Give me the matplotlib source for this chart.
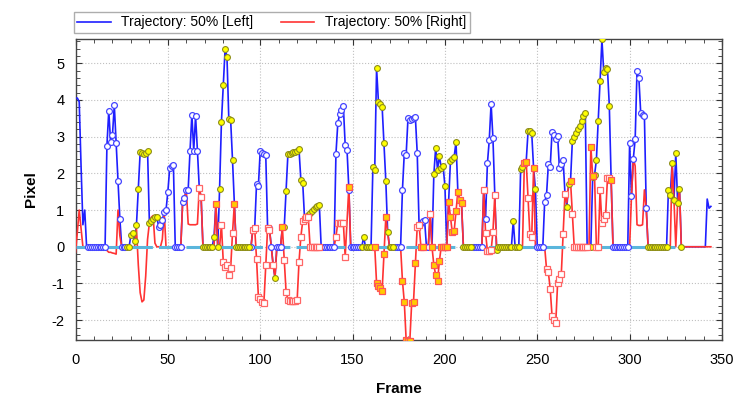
import numpy as np
import matplotlib
matplotlib.use('Agg')
import matplotlib.pyplot as plt
from matplotlib.ticker import MultipleLocator
from matplotlib.lines import Line2D

plt.rcParams['font.family'] = ['Liberation Sans', 'DejaVu Sans']
plt.rcParams['axes.unicode_minus'] = False

# --- data: one value per frame, frames 0..344 ---
LEFT_VALUES = [
    4.05, 4.05, 3.95, 2.2, 0.6, 1.0, 0, 0, 0, 0,
    0, 0, 0, 0, 0, 0, 0, 2.75, 3.7, 2.86,
    3.05, 3.85, 2.84, 1.8, 0.77, 0, 0, 0, 0, 0,
    0.32, 0.38, 0.15, 0.6, 1.57, 2.57, 2.55, 2.52, 2.55, 2.62,
    0.65, 0.7, 0.75, 0.8, 0.82, 0.55, 0.6, 0.72, 0.95, 1.0,
    1.5, 2.15, 2.2, 2.22, 0, 0, 0, 0, 1.23, 1.32,
    1.55, 1.56, 2.62, 3.6, 2.62, 3.56, 2.62, 1.6, 1.35, 0,
    0, 0, 0, 0, 0, 0.27, 1.17, 0, 1.58, 3.4,
    4.4, 5.4, 5.18, 3.47, 3.44, 2.36, 1.16, 0, 0, 0,
    0, 0, 0, 0, 0, 0, 0.47, 0.5, 1.7, 1.65,
    2.62, 2.56, 2.52, 2.5, 0.5, 0.5, 0, -0.5, -0.84, 0,
    0, 0, 0.53, 0.53, 1.52, 2.53, 2.53, 2.55, 2.57, 2.58,
    2.6, 2.65, 1.82, 1.75, 0.77, 0.82, 0.87, 0.92, 0.97, 1.02,
    1.07, 1.11, 1.15, 0, 0, 0, 0, 0, 0, 0,
    0, 2.53, 3.36, 3.62, 3.73, 3.84, 2.77, 2.64, 1.56, 0,
    0, 0, 0, 0, 0, 0, 0.27, 0, 0, 0,
    0, 2.18, 2.1, 4.86, 3.95, 3.9, 3.82, 2.82, 1.79, 0.41,
    0, 0, 0, 0, 0, 0, 0, 1.55, 2.55, 2.5,
    3.5, 3.45, 3.47, 3.5, 3.53, 2.56, 0.6, 0.64, 0.7, 0.72,
    0, 0, 0.88, 0, 1.97, 2.7, 2.1, 2.48, 2.15, 2.2,
    1.66, 0, 1.23, 2.34, 2.4, 2.45, 2.86, 1.5, 1.27, 1.18,
    0, 0, 0, 0, 0, 0, 0, 0, 0, 0,
    0, 1.56, 0.77, 2.27, 2.9, 3.9, 2.95, 1.41, -0.1, 0,
    0, 0, 0, 0, 0, 0, 0, 0.7, 0, 0,
    0, 2.12, 2.18, 2.29, 2.32, 3.14, 3.16, 3.09, 2.15, 1.57,
    0, 0, 0, 0, 1.23, 1.4, 2.25, 2.18, 3.13, 3.05,
    2.93, 3.02, 2.14, 2.25, 2.36, 1.45, 1.09, 1.7, 1.79, 2.89,
    3.0, 3.1, 3.2, 3.3, 3.43, 3.55, 3.65, 0, 0, 0,
    1.9, 1.95, 2.36, 3.43, 4.52, 5.65, 4.75, 4.88, 4.85, 3.84,
    1.82, 0, 0, 0, 0, 0, 0, 0, 0, 0,
    2.84, 1.38, 2.4, 2.93, 4.8, 4.6, 3.65, 3.6, 3.57, 1.06,
    0, 0, 0, 0, 0, 0, 0, 0, 0, 0,
    0, 1.55, 1.41, 2.27, 1.27, 2.55, 1.2, 1.58, 0, 0,
    0, 0, 0, 0, 0, 0, 0, 0, 0, 0,
    0, 0, 1.3, 1.05, 1.1,
]

RIGHT_VALUES = [
    -0.15, 0.4, 1.0, 0.5, 0, 0, 0, 0, 0, 0,
    0, 0, 0, 0, 0, 0, 0, -0.1, -0.15, -0.15,
    -0.17, -0.18, -0.2, 1.0, 0.3, 0, 0, 0, 0, 0,
    0, 0, 0, 0.5, -0.5, -1.25, -1.5, -1.45, -0.8, 0.2,
    0.65, 0.8, 0.85, 0.1, 0, 0, 0, 0.2, 0.95, 0,
    -0.05, 0, 0, 0, 0, 0, 0, 0, 1.23, 1.32,
    1.55, 0.62, 0.6, 0.6, 0.6, 0.6, 0.62, 1.6, 1.35, 0,
    0, 0, 0, 0, 0, 0, 1.17, 0, 0, 0.6,
    -0.42, -0.55, -0.5, -0.77, -0.58, 0.38, 1.16, 0, 0, 0,
    0, 0, 0, 0, 0, 0, 0.47, 0.5, -0.32, -1.36,
    -1.43, -1.5, -1.52, -0.5, 0.5, 0.47, 0, -0.5, -0.84, 0,
    0, 0, 0.53, -0.36, -1.23, -1.45, -1.47, -1.47, -1.47, -1.47,
    -1.45, -0.41, 0.27, 0.7, 0.77, 0.8, 0.82, 0, 0, 0,
    0, 0, 0, 0, 0, 0, 0, 0, 0, 0,
    0, 0.27, 0.66, 0.66, 0.66, 0.66, -0.27, 0.66, 1.64, 0,
    0, 0, 0, 0, 0, 0, 0, 0, 0, 0,
    0, 0, 0, -1.0, -1.06, -1.12, -1.2, -0.2, 0.8, 0.41,
    0, 0, 0, 0, 0, 0, 0, -0.93, -1.5, -2.53,
    -2.56, -2.56, -1.53, -1.5, -0.45, 0.55, 0.6, 0, 0, 0,
    0, 0, 0.88, 0, -0.5, -0.77, -0.94, -0.39, 0, 0,
    0, 0, 1.23, 0.82, 0.39, 0.43, 0.97, 1.5, 1.27, 1.18,
    0, 0, 0, 0, 0, 0, 0, 0, 0, 0,
    0, 1.56, 0.38, -0.11, -0.11, -0.1, 0.41, 1.41, -0.1, 0,
    0, 0, 0, 0, 0, 0, 0, 0, 0, 0,
    0, 0, 0, 2.29, 2.32, 1.34, 0.34, 0.27, 2.15, 0,
    0, 0, 0, 0, 0, -0.6, -0.7, -1.14, -1.89, -2.0,
    -2.09, -1.0, -0.88, -0.75, 0.34, 1.45, 1.2, 1.7, 1.79, 0.89,
    0, 0, 0, 0, 0, 0, 0, 0, 0, 2.73,
    1.93, 1.95, 0, 0, 1.55, 0.64, 0.75, 0.86, 1.86, 1.86,
    1.82, 0, 0, 0, 0, 0, 0, 0, 0, 0,
    0, 1.38, 2.4, 2.2, 0.6, 0.58, 0.58, 0.6, 1.55, 1.06,
    0, 0, 0, 0, 0, 0, 0, 0, 0, 0,
    0, 0, 0, 2.27, 1.27, 0, 1.2, 1.58, 0, 0,
    0, 0, 0, 0, 0, 0, 0, 0, 0, 0,
    0, 0, 0, 0, 0,
]

# point status per frame, as runs: n = no marker, w = open, y = flagged
LEFT_STATUS_RUNS = [
    ('n', 7), ('w', 21), ('y', 17), ('w', 24), ('y', 26), ('w', 13), ('y', 1),
    ('w', 3), ('y', 21), ('w', 22), ('y', 18), ('w', 20), ('y', 22), ('w', 13),
    ('y', 22), ('w', 16), ('y', 25), ('w', 19), ('y', 19), ('n', 16),
]
RIGHT_STATUS_RUNS = [
    ('n', 67), ('w', 2), ('n', 7), ('y', 1), ('n', 2), ('w', 7), ('y', 1),
    ('n', 9), ('w', 10), ('n', 1), ('w', 1), ('n', 4), ('y', 1), ('w', 20),
    ('n', 8), ('w', 6), ('n', 1), ('y', 1), ('n', 13), ('y', 7), ('n', 8),
    ('y', 8), ('w', 2), ('y', 2), ('n', 3), ('w', 1), ('y', 17), ('n', 11),
    ('w', 7), ('n', 15), ('y', 2), ('w', 3), ('y', 1), ('n', 6), ('w', 11),
    ('n', 2), ('y', 1), ('w', 9), ('n', 1), ('y', 2), ('n', 1), ('w', 8),
    ('y', 1), ('n', 54),
]

REF_FRAMES = [0, 328]
REF_VALUES = [0, 0]

LEGEND_LABELS = ['Trajectory: 50% [Left]', 'Trajectory: 50% [Right]']


def expand(runs):
    return np.array([code for code, n in runs for _ in range(n)])


left = np.array(LEFT_VALUES, dtype=float)
right = np.array(RIGHT_VALUES, dtype=float)
frames = np.arange(len(left))
left_status = expand(LEFT_STATUS_RUNS)
right_status = expand(RIGHT_STATUS_RUNS)

BLUE = '#1f1fff'
RED = '#ff3333'

fig = plt.figure(figsize=(7.44, 3.95), dpi=100)
ax = fig.add_axes([0.1015, 0.1392, 0.8689, 0.7621])

ax.plot(frames, left, color=BLUE, lw=1.2, zorder=3)
ax.plot(frames, right, color=RED, lw=1.2, zorder=4)
ax.plot(REF_FRAMES, REF_VALUES, color='#5ab6dc', lw=2.2, dashes=(7, 2), zorder=5)

m = left_status == 'w'
ax.plot(frames[m], left[m], ls='none', marker='o', ms=4.2, mfc='white',
        mec='#4444ff', mew=0.9, zorder=6)
m = left_status == 'y'
ax.plot(frames[m], left[m], ls='none', marker='o', ms=4.2, mfc='#ffff00',
        mec='#8c8c1a', mew=0.8, zorder=6)
m = right_status == 'w'
ax.plot(frames[m], right[m], ls='none', marker='s', ms=4.2, mfc='white',
        mec='#ff6666', mew=0.9, zorder=7)
m = right_status == 'y'
ax.plot(frames[m], right[m], ls='none', marker='s', ms=4.2, mfc='#ffcc00',
        mec='#ff5555', mew=0.9, zorder=7)

ax.set_xlim(0, 350)
ax.set_ylim(-2.54, 5.66)
ax.xaxis.set_major_locator(MultipleLocator(50))
ax.xaxis.set_minor_locator(MultipleLocator(10))
ax.yaxis.set_major_locator(MultipleLocator(1))
ax.yaxis.set_minor_locator(MultipleLocator(0.2))
ax.grid(True, which='major', linestyle=':', color='#c0c0c0', lw=0.8)
ax.set_axisbelow(True)

ax.tick_params(which='both', direction='in', top=True, right=True,
               colors='#333333', labelcolor='black', labelsize=10.5)
ax.tick_params(which='major', length=4, width=0.8)
ax.tick_params(which='minor', length=3, width=0.6)
ax.tick_params(axis='x', pad=9)
ax.tick_params(axis='y', pad=8)
for s in ax.spines.values():
    s.set_color('#444444')
    s.set_linewidth(1.0)

ax.set_xlabel('Frame', fontsize=11, fontweight='bold', labelpad=11)
ax.set_ylabel('Pixel', fontsize=11, fontweight='bold', labelpad=10)

handles = [Line2D([], [], color=BLUE, lw=1.2), Line2D([], [], color=RED, lw=1.2)]
fig.legend(handles, LEGEND_LABELS, loc='upper left',
           bbox_to_anchor=(74 / 744, 1 - 12 / 395), ncol=2, fontsize=10,
           frameon=True, fancybox=False, edgecolor='#999999',
           handlelength=2.4, handletextpad=0.75, columnspacing=2.0,
           borderpad=0.25, borderaxespad=0)

fig.savefig('out.png', dpi=100)
